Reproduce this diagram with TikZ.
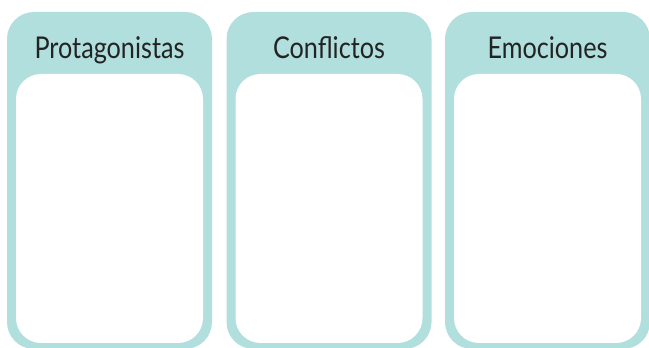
\documentclass[tikz,border=0pt]{standalone}
\usepackage{fontspec}
\newfontfamily\cardfont{Lato}[FakeStretch=0.84]
\usetikzlibrary{positioning}

\begin{document}
\begin{tikzpicture}[x=1pt,y=1pt]
  \definecolor{cardteal}{RGB}{176,223,221}
  \definecolor{cardtext}{RGB}{35,35,35}
  \tikzset{
    card/.style={fill=cardteal, rounded corners=27pt, minimum width=205pt, minimum height=337pt, inner sep=0pt},
    panel/.style={fill=white, rounded corners=25pt, minimum width=187pt, minimum height=269pt, inner sep=0pt},
    cardtitle/.style={anchor=base, inner sep=0pt, text=cardtext, font=\cardfont\fontsize{30}{32}\selectfont}
  }
  \useasboundingbox (0,0) rectangle (649,348);
  % three cards side by side
  \foreach \i/\cx/\name in {1/109.5/Protagonistas, 2/329/Conflictos, 3/547.5/Emociones} {
    \node[card] (card\i) at (\cx,167.5) {};
    \node[panel] (panel\i) at (\cx,139.5) {};
    \node[cardtitle] (title\i) at (\cx,289) {\name};
  }
\end{tikzpicture}
\end{document}
